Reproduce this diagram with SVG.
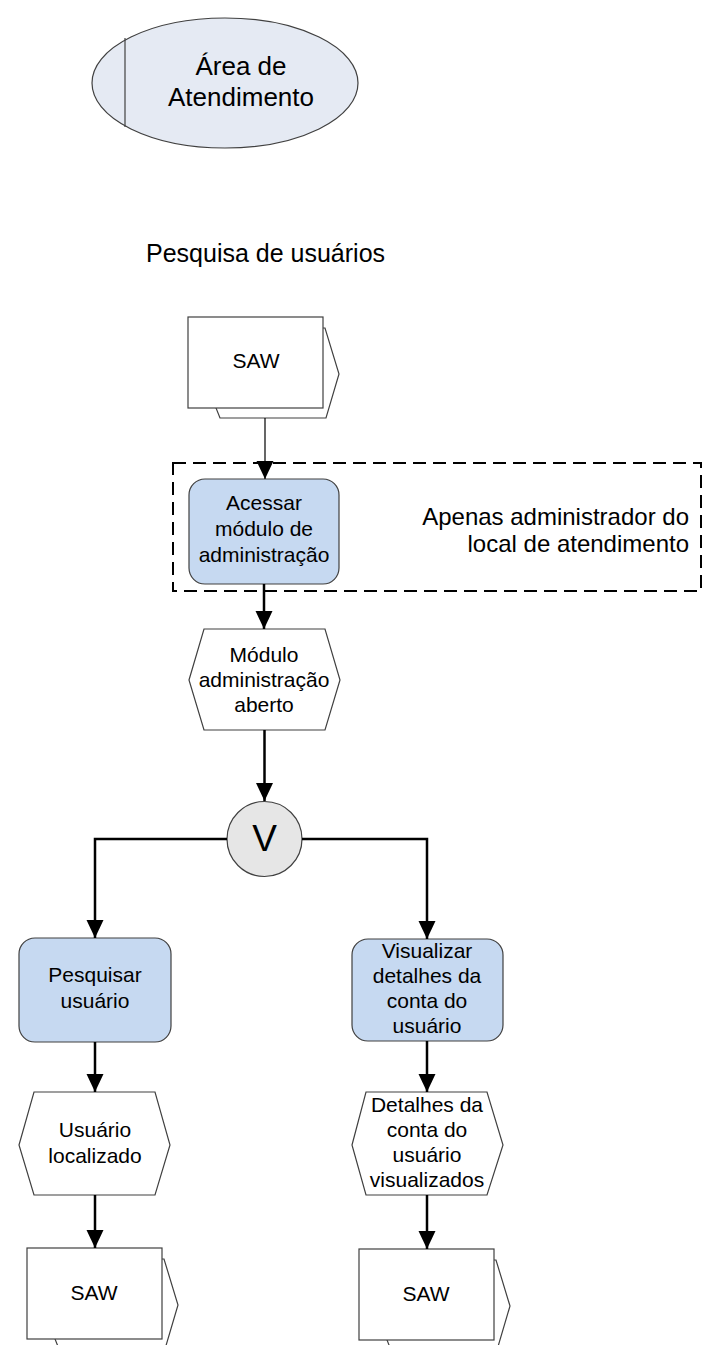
<svg xmlns="http://www.w3.org/2000/svg" width="702" height="1345" viewBox="0 0 702 1345">
<defs>
<style>
text{font-family:"Liberation Sans",Arial,sans-serif;fill:#000}
.t21{font-size:21px;text-anchor:middle}
.box{fill:#c6d9f1;stroke:#404040;stroke-width:1.2}
.hex{fill:#fff;stroke:#404040;stroke-width:1.2}
.saw{fill:#fff;stroke:#404040;stroke-width:1.2}
.conn{fill:none;stroke:#000;stroke-width:2.5}
.thin{fill:none;stroke:#000;stroke-width:1.2}
</style>
<marker id="arr" markerUnits="userSpaceOnUse" markerWidth="18" markerHeight="18" refX="18" refY="8.5" orient="auto">
<path d="M0,0 L18,8.5 L0,17 z" fill="#000"/>
</marker>
</defs>

<g id="area">
<ellipse cx="225" cy="83" rx="133" ry="65" fill="#e5eaf3" stroke="#404040" stroke-width="1.2"/>
<line x1="125" y1="38" x2="125" y2="127" stroke="#404040" stroke-width="1.2"/>
<text x="241" y="75" style="font-size:26px;text-anchor:middle">Área de</text>
<text x="241" y="106" style="font-size:26px;text-anchor:middle">Atendimento</text>
</g>

<g id="title">
<text x="146" y="262" style="font-size:25px">Pesquisa de usuários</text>
</g>

<g id="saw-top">
<polygon class="saw" points="216,328 325,328 339,374 326,418 220,418 216,408"/>
<rect class="saw" x="188" y="317" width="135" height="91"/>
<text class="t21" x="256" y="368">SAW</text>
</g>

<g id="admin-note">
<rect x="173" y="463" width="528" height="128" fill="none" stroke="#000" stroke-width="2" stroke-dasharray="13 7"/>
<text x="689" y="525" style="font-size:24px;text-anchor:end">Apenas administrador do</text>
<text x="689" y="552" style="font-size:24px;text-anchor:end">local de atendimento</text>
</g>

<g id="acessar">
<rect class="box" x="189" y="479" width="150" height="105" rx="16"/>
<text class="t21" x="264" y="510">Acessar</text>
<text class="t21" x="264" y="536">módulo de</text>
<text class="t21" x="264" y="562">administração</text>
</g>

<g id="modulo-aberto">
<polygon class="hex" points="189,680 204,629 325,629 340,680 325,730 204,730"/>
<text class="t21" x="264" y="662">Módulo</text>
<text class="t21" x="264" y="687">administração</text>
<text class="t21" x="264" y="712">aberto</text>
</g>

<g id="xor">
<circle cx="264.5" cy="839" r="37.5" fill="#e6e6e6" stroke="#404040" stroke-width="1.2"/>
<text x="264.5" y="851" style="font-size:37px;text-anchor:middle">V</text>
</g>

<g id="pesquisar">
<rect class="box" x="19" y="938" width="152" height="104" rx="16"/>
<text class="t21" x="95" y="982">Pesquisar</text>
<text class="t21" x="95" y="1008">usuário</text>
</g>

<g id="visualizar">
<rect class="box" x="352" y="939" width="151" height="102" rx="16"/>
<text class="t21" x="427" y="958">Visualizar</text>
<text class="t21" x="427" y="983">detalhes da</text>
<text class="t21" x="427" y="1008">conta do</text>
<text class="t21" x="427" y="1033">usuário</text>
</g>

<g id="usuario-localizado">
<polygon class="hex" points="19,1145 34,1092 155,1092 170,1145 155,1195 34,1195"/>
<text class="t21" x="95" y="1137">Usuário</text>
<text class="t21" x="95" y="1163">localizado</text>
</g>

<g id="detalhes-visualizados">
<polygon class="hex" points="352,1145 366,1092 487,1092 503,1145 487,1195 366,1195"/>
<text class="t21" x="427" y="1112">Detalhes da</text>
<text class="t21" x="427" y="1137">conta do</text>
<text class="t21" x="427" y="1162">usuário</text>
<text class="t21" x="427" y="1187">visualizados</text>
</g>

<g id="saw-left">
<polygon class="saw" points="55,1259 164,1259 178,1305 165,1349 59,1349 55,1339"/>
<rect class="saw" x="27" y="1248" width="135" height="91"/>
<text class="t21" x="94" y="1300">SAW</text>
</g>

<g id="saw-right">
<polygon class="saw" points="387,1260 496,1260 510,1306 497,1350 391,1350 387,1340"/>
<rect class="saw" x="359" y="1249" width="135" height="91"/>
<text class="t21" x="426" y="1301">SAW</text>
</g>

<g id="connectors">
<line class="thin" x1="265" y1="418" x2="265" y2="479" marker-end="url(#arr)"/>
<line class="conn" x1="264" y1="584" x2="264" y2="629" marker-end="url(#arr)"/>
<line class="conn" x1="264.5" y1="730" x2="264.5" y2="801" marker-end="url(#arr)"/>
<polyline class="conn" points="227,839 95,839 95,938" marker-end="url(#arr)"/>
<polyline class="conn" points="302,839 427,839 427,939" marker-end="url(#arr)"/>
<line class="conn" x1="95" y1="1042" x2="95" y2="1092" marker-end="url(#arr)"/>
<line class="conn" x1="427" y1="1041" x2="427" y2="1092" marker-end="url(#arr)"/>
<line class="conn" x1="95" y1="1195" x2="95" y2="1248" marker-end="url(#arr)"/>
<line class="conn" x1="427" y1="1195" x2="427" y2="1249" marker-end="url(#arr)"/>
</g>
</svg>
